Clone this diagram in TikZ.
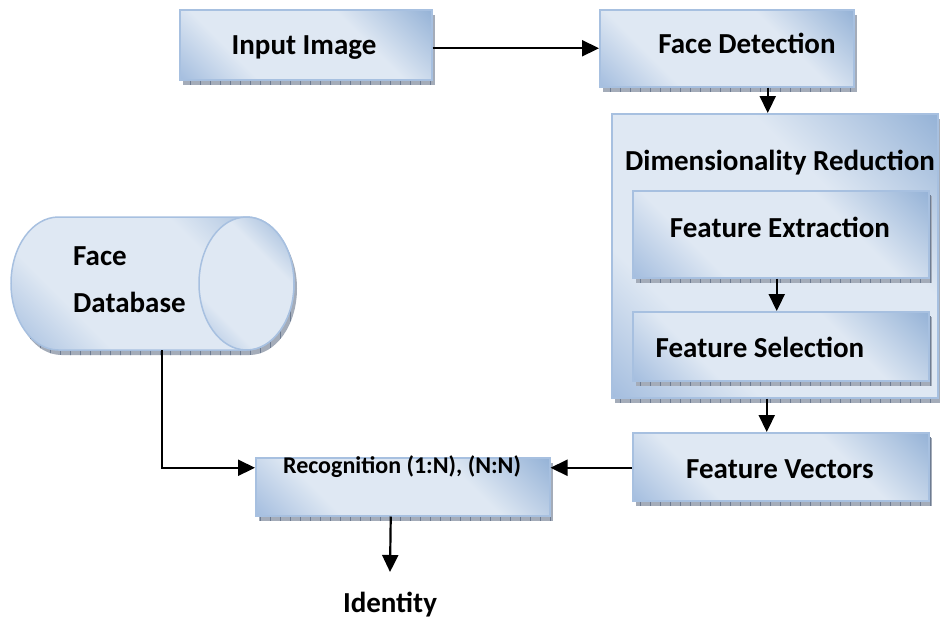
\documentclass[tikz,border=0pt]{standalone}
\usepackage{fontspec}
\setmainfont{Carlito}
\usetikzlibrary{arrows.meta,shadows,patterns.meta}

\definecolor{bxlight}{HTML}{DFE8F3}
\definecolor{bxmid}{HTML}{A2BCDE}
\definecolor{bxdark}{HTML}{93B1D6}
\definecolor{bxedge}{HTML}{A7C0E0}
\definecolor{shgray}{HTML}{A4ACB9}
\definecolor{shtick}{HTML}{6E7C92}

% diagonal gradient: darker corners, pale middle band
\pgfdeclareverticalshading{boxshade}{100bp}{%
  color(0bp)=(bxmid); color(14bp)=(bxmid);
  color(32bp)=(bxlight); color(64bp)=(bxlight);
  color(86bp)=(bxdark); color(100bp)=(bxdark)}

\tikzset{
  x=1pt, y=-1pt,
  dropshadow/.style={
    general shadow={fill=shgray, shadow xshift=3pt, shadow yshift=-5pt},
    general shadow={pattern={Lines[angle=90,distance=10pt,line width=0.7pt]},
                    pattern color=shtick, shadow xshift=3pt, shadow yshift=-5pt}},
  stagebox/.style={draw=bxedge, line width=1.5pt, shading=boxshade,
    shading angle=-45, dropshadow, inner sep=0pt, anchor=north west},
  lbl/.style={font=\bfseries\fontsize{29}{34}\selectfont, inner sep=0pt, anchor=base},
  smalllbl/.style={font=\bfseries\fontsize{24}{28}\selectfont, inner sep=0pt, anchor=base},
  arr/.style={line width=2.2pt, -{Triangle[length=17pt,width=16pt]}},
}

\begin{document}
\begin{tikzpicture}
\useasboundingbox (0,0) rectangle (940,622);

% face database cylinder
\path[draw=bxedge, line width=1.5pt, shading=boxshade, shading angle=-45, dropshadow]
  (58.5,217) -- (246.5,217)
  arc[start angle=90, end angle=-90, x radius=47.5pt, y radius=66.5pt]
  -- (58.5,350)
  arc[start angle=270, end angle=90, x radius=47.5pt, y radius=66.5pt] -- cycle;
\path[draw=bxedge, line width=1.5pt, shading=boxshade, shading angle=-45]
  (246.5,283.5) ellipse[x radius=47.5pt, y radius=66.5pt];
\node[lbl, anchor=base west] (dbt1) at (73,265) {Face};
\node[lbl, anchor=base west] (dbt2) at (73,312) {Database};
\coordinate (dbfoot) at (162,350);

% stage boxes
\node[stagebox, minimum width=252pt, minimum height=70pt] (inp) at (179,9) {};
\node[stagebox, minimum width=254pt, minimum height=77pt] (det) at (599,9) {};
\node[stagebox, minimum width=326pt, minimum height=284pt] (dim) at (611,113) {};
\node[stagebox, minimum width=296pt, minimum height=87pt] (ext) at (632,190) {};
\node[stagebox, minimum width=296pt, minimum height=69pt] (sel) at (632,311) {};
\node[stagebox, minimum width=296pt, minimum height=68pt] (vec) at (632,432) {};
\node[stagebox, minimum width=294pt, minimum height=58pt] (rec) at (255,457) {};

% labels
\node[lbl] (inpt) at (304,54) {Input Image};
\node[lbl] (dett) at (747,53) {Face Detection};
\node[lbl] (dimt) at (780,170) {Dimensionality Reduction};
\node[lbl] (extt) at (780,237) {Feature Extraction};
\node[lbl] (selt) at (760,357) {Feature Selection};
\node[lbl] (vect) at (780,478) {Feature Vectors};
\node[smalllbl] (rect) at (402,473) {Recognition (1:N), (N:N)};
\node[lbl] (idt) at (390,612) {Identity};
\coordinate (idin) at (390,572);

% connectors
\draw[arr] (inp.east |- det.west) -- (det.west);
\draw[arr] ([xshift=-7pt]dim.north |- det.south) -- ([xshift=-7pt]dim.north);
\draw[arr] ([xshift=-4pt]ext.south) -- ([xshift=-4pt]sel.north);
\draw[arr] ([xshift=-8pt]dim.south) -- ([xshift=-8pt]dim.south |- vec.north);
\draw[arr] ([yshift=-1pt]vec.west) -- ([yshift=-1pt]vec.west -| rec.east);
\draw[arr] (dbfoot) |- ([yshift=19pt]rec.west);
\draw[arr] ([xshift=-12pt]rec.south) -- (idin);
\end{tikzpicture}
\end{document}
